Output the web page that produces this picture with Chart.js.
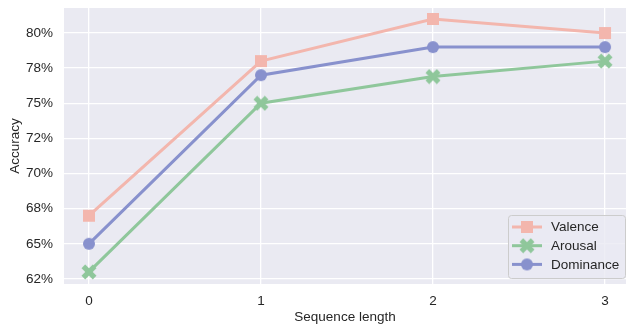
<!DOCTYPE html>
<html lang="en">
<head>
    <meta charset="UTF-8">
    <title>Accuracy vs Sequence length</title>
    <script src="https://cdn.jsdelivr.net/npm/chart.js"></script>
    <style>
        body { margin: 0; background: #ffffff; }
        canvas { display: block; }
    </style>
</head>
<body>
<canvas id="accChart" width="626" height="327"></canvas>

<script>
    // values
    const seqLengths = [0, 1, 2, 3];
    const valence = [67.0, 78.0, 81.0, 80.0];
    const arousal = [63.0, 75.0, 76.9, 78.0];
    const dominance = [65.0, 77.0, 79.0, 79.0];
    const yTicks = [62.5, 65, 67.5, 70, 72.5, 75, 77.5, 80];
    const yTickLabels = ['62%', '65%', '68%', '70%', '72%', '75%', '78%', '80%'];

    const colValence = '#f3b6ad';
    const colArousal = '#8fc79b';
    const colDominance = '#8891cd';
    const fontFamily = '"Liberation Sans", Arial, sans-serif';

    // marker images (square, filled X, circle)
    function makeMarker(shape, color) {
        const c = document.createElement('canvas');
        c.width = 16; c.height = 16;
        const g = c.getContext('2d');
        g.fillStyle = color;
        g.translate(8, 8);
        if (shape === 'square') {
            g.fillRect(-6, -6, 12, 12);
        } else if (shape === 'circle') {
            g.beginPath();
            g.arc(0, 0, 6, 0, Math.PI * 2);
            g.fill();
        } else {
            g.rotate(Math.PI / 4);
            g.fillRect(-8, -2.6, 16, 5.2);
            g.fillRect(-2.6, -8, 5.2, 16);
        }
        return c;
    }

    function toPoints(values) {
        return seqLengths.map((x, i) => ({ x: x, y: values[i] }));
    }

    const series = [
        { label: 'Valence', data: valence, color: colValence, shape: 'square' },
        { label: 'Arousal', data: arousal, color: colArousal, shape: 'x' },
        { label: 'Dominance', data: dominance, color: colDominance, shape: 'circle' }
    ];
    series.forEach(s => s.marker = makeMarker(s.shape, s.color));

    // background of the plot area, seaborn darkgrid style
    const plotBackground = {
        id: 'plotBackground',
        beforeDraw(chart) {
            const a = chart.chartArea;
            const ctx = chart.ctx;
            ctx.save();
            ctx.fillStyle = '#eaeaf2';
            ctx.fillRect(a.left, a.top, a.right - a.left, a.bottom - a.top);
            ctx.restore();
        }
    };

    // legend box in the lower right corner
    const innerLegend = {
        id: 'innerLegend',
        afterDraw(chart) {
            const ctx = chart.ctx;
            const x = 508, y = 215, w = 117, h = 63;
            ctx.save();
            ctx.beginPath();
            ctx.roundRect(x + 0.5, y + 0.5, w, h, 3);
            ctx.fillStyle = 'rgba(234,234,242,0.8)';
            ctx.fill();
            ctx.strokeStyle = '#cccccc';
            ctx.lineWidth = 1;
            ctx.stroke();
            series.forEach((s, i) => {
                const cy = 227 + i * 18.7;
                ctx.strokeStyle = s.color;
                ctx.lineWidth = 3;
                ctx.beginPath();
                ctx.moveTo(512, cy);
                ctx.lineTo(542, cy);
                ctx.stroke();
                ctx.drawImage(s.marker, 527 - 8, cy - 8);
                ctx.fillStyle = '#262626';
                ctx.font = '13.5px ' + fontFamily;
                ctx.textBaseline = 'middle';
                ctx.textAlign = 'left';
                ctx.fillText(s.label, 551, cy + 0.5);
            });
            ctx.restore();
        }
    };

    function noPad(scale) {
        scale.paddingTop = 0;
        scale.paddingBottom = 0;
        scale.paddingLeft = 0;
        scale.paddingRight = 0;
    }

    const ctx = document.getElementById('accChart').getContext('2d');
    new Chart(ctx, {
        type: 'line',
        data: {
            datasets: series.map(s => ({
                label: s.label,
                data: toPoints(s.data),
                borderColor: s.color,
                backgroundColor: s.color,
                borderWidth: 3,
                pointStyle: s.marker,
                pointRadius: 7,
                pointHoverRadius: 7,
                tension: 0,
                fill: false
            }))
        },
        options: {
            responsive: false,
            animation: false,
            layout: { autoPadding: false, padding: { top: 8, left: 0, right: 0, bottom: 0 } },
            plugins: {
                legend: { display: false },
                tooltip: { enabled: false }
            },
            scales: {
                x: {
                    type: 'linear',
                    min: -0.145,
                    max: 3.122,
                    afterBuildTicks: scale => {
                        scale.ticks = seqLengths.map(v => ({ value: v }));
                    },
                    afterFit: scale => { scale.height = 43; noPad(scale); },
                    grid: { color: '#ffffff', lineWidth: 1.3, drawTicks: false },
                    border: { display: false },
                    ticks: {
                        padding: 9,
                        color: '#262626',
                        maxRotation: 0,
                        font: { family: fontFamily, size: 13.5 },
                        callback: v => String(v)
                    },
                    title: {
                        display: true,
                        text: 'Sequence length',
                        color: '#262626',
                        font: { family: fontFamily, size: 13.5 },
                        padding: { top: 0, bottom: 2 }
                    }
                },
                y: {
                    min: 62.14,
                    max: 81.78,
                    afterBuildTicks: scale => {
                        scale.ticks = yTicks.map(v => ({ value: v }));
                    },
                    afterFit: scale => { scale.width = 64; noPad(scale); },
                    grid: { color: '#ffffff', lineWidth: 1.3, drawTicks: false },
                    border: { display: false },
                    ticks: {
                        padding: 11,
                        color: '#262626',
                        font: { family: fontFamily, size: 13.5 },
                        callback: v => yTickLabels[yTicks.indexOf(v)]
                    },
                    title: {
                        display: true,
                        text: 'Accuracy',
                        color: '#262626',
                        font: { family: fontFamily, size: 13.5 },
                        padding: { top: 7, bottom: 0 }
                    }
                }
            }
        },
        plugins: [plotBackground, innerLegend]
    });
</script>
</body>
</html>
